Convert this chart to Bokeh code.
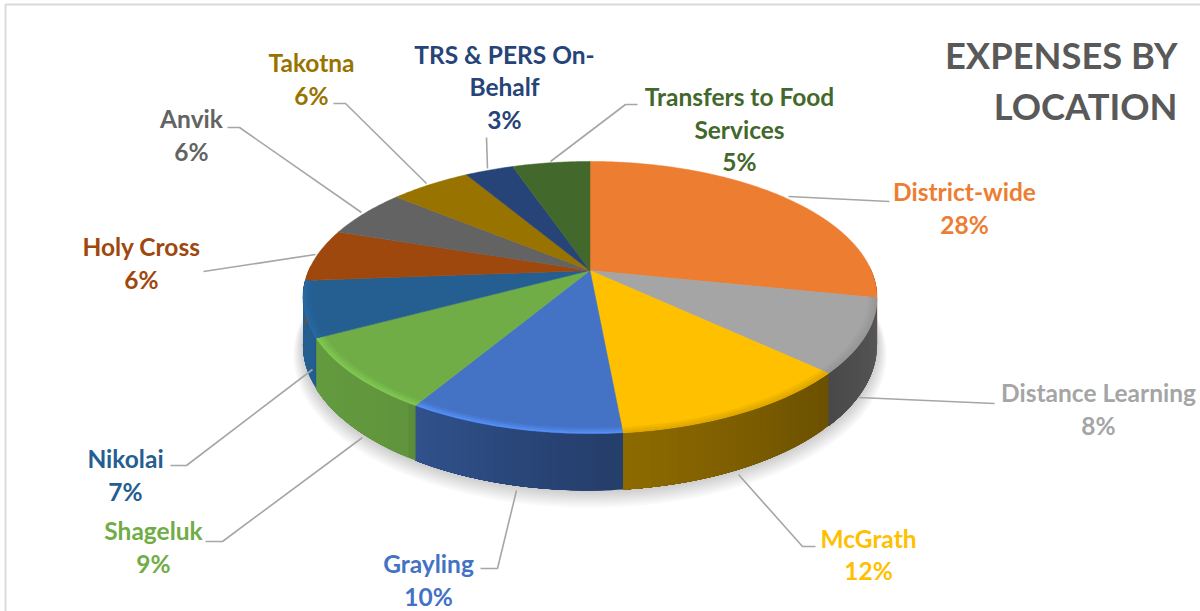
import numpy as np
from bokeh.plotting import figure
from bokeh.models import ColumnDataSource, Range1d
from bokeh.core.properties import value
from bokeh.embed import file_html
from bokeh.resources import INLINE

# ---- data ----
categories = ["District-wide", "Distance Learning", "McGrath", "Grayling", "Shageluk", "Nikolai",
              "Holy Cross", "Anvik", "Takotna", "TRS & PERS On-Behalf", "Transfers to Food Services"]
drawn_shares = [28.2, 8.7, 11.6, 10.1, 8.6, 6.6, 6.25, 5.85, 5.5, 3.3, 5.3]
percent_labels = ["28%", "8%", "12%", "10%", "9%", "7%", "6%", "6%", "6%", "3%", "5%"]

# ---- styles ----
colors = ["#ED7D31", "#A5A5A5", "#FFC000", "#4472C4", "#70AD47", "#255E91",
          "#9E480E", "#636363", "#997300", "#264478", "#43682B"]
rim_gain = [1.0, 0.92, 0.88, 1.25, 1.15, 1.1, 1, 1, 1, 1, 1]
FONT = "Lato"

# ---- label layout (pixels in the window) ----
label_lines = [["District-wide"], ["Distance Learning"], ["McGrath"], ["Grayling"], ["Shageluk"], ["Nikolai"],
               ["Holy Cross"], ["Anvik"], ["Takotna"], ["TRS & PERS On-", "Behalf"], ["Transfers to Food", "Services"]]
label_x = [964, 1098, 868, 428, 153, 125, 141, 191, 311, 504, 739]
label_y = [191, 392, 537.5, 563.3, 530, 458, 246, 118, 62, 53.5, 96]
LINE_GAP = 32.7
leaders = [
    [(788, 196), (889, 201)],
    [(858, 397), (994, 403)],
    [(738, 474), (802, 546), (815, 546)],
    [(516, 490), (497, 568), (480, 568)],
    [(362, 437), (222, 541), (205, 541)],
    [(312, 369), (186, 465), (170, 465)],
    [(315, 254), (203, 271)],
    [(361, 212), (239, 127), (227, 127)],
    [(426, 183), (345, 103), (333, 103)],
    [(487, 168), (486, 137)],
    [(550, 161), (625, 104), (637, 104)],
]

# ---- projection of the pie ----
CX, CY, RX, RY, K, DROP = 589.5, 270.0, 281.3, 130.7, 0.1987, 45.6


def project(theta_deg, r=1.0, drop=0.0):
    t = np.radians(np.asarray(theta_deg, dtype=float))
    u, v = r * np.sin(t), r * np.cos(t)
    w = 1 + K * v
    return CX + RX * u / w, CY - RY * v / w + drop / w


def scale(hex_color, f):
    rgb = [int(hex_color[i:i + 2], 16) for i in (1, 3, 5)]
    return "#%02x%02x%02x" % tuple(int(min(255, max(0, c * f))) for c in rgb)


shade_angle = [88, 132, 133, 175, 176, 211, 212, 242, 243, 272]
shade_value = [0.58, 0.45, 0.42, 0.56, 0.54, 0.72, 0.86, 0.90, 1.0, 1.0]

edges = np.concatenate([[0], np.cumsum(drawn_shares)]) / np.sum(drawn_shares) * 360

p = figure(width=1200, height=611, output_backend="svg", toolbar_location=None,
           x_range=Range1d(0, 1200), y_range=Range1d(611, 0), min_border=0,
           outline_line_color=None, background_fill_color="white", border_fill_color="white")
p.axis.visible = False
p.grid.visible = False

# frame
p.line([5, 5, 1200], [611, 4, 4], line_color="#DADADA", line_width=2)

# soft shadow under the pie
ring = np.linspace(0, 360, 241)
for i in range(8, 0, -1):
    x, y = project(ring, r=1.0 + 0.004 * i, drop=DROP + 1.0 * i)
    p.patch(x, y, fill_color="#000000", fill_alpha=0.022, line_color=None)

# side wall, painted as narrow overlapping facets (each painted over the tail of the one before)
sx, sy, sc = [], [], []
for a, b, col in zip(edges[:-1], edges[1:], colors):
    lo, hi = max(a, 88), min(b, 272)
    if hi <= lo:
        continue
    steps = max(2, int((hi - lo) / 1.5))
    grid = np.linspace(lo, hi, steps + 1)
    for t0, t1 in zip(grid[:-1], grid[1:]):
        arc = np.linspace(t0, hi, max(2, int(hi - t0) + 2))
        x0, y0 = project(arc)
        x1, y1 = project(arc[::-1], drop=DROP)
        sx.append(list(x0) + list(x1))
        sy.append(list(y0) + list(y1))
        sc.append(scale(col, np.interp((t0 + t1) / 2, shade_angle, shade_value)))
p.patches("x", "y", fill_color="c", line_color=None,
          source=ColumnDataSource(dict(x=sx, y=sy, c=sc)))

# top face
tx, ty, tc = [], [], []
for a, b, col in zip(edges[:-1], edges[1:], colors):
    grid = np.linspace(a, b, max(3, int((b - a) * 1.5)))
    x, y = project(grid)
    tx.append([CX] + list(x))
    ty.append([CY] + list(y))
    tc.append(col)
p.patches("x", "y", fill_color="c", line_color="c", line_width=0.5,
          source=ColumnDataSource(dict(x=tx, y=ty, c=tc)))

# bevel on the front edge of the top face
bx, by, bc = [], [], []
for a, b, col, gain in zip(edges[:-1], edges[1:], colors, rim_gain):
    lo, hi = max(a, 100), min(b, 272)
    if hi <= lo or gain == 1:
        continue
    grid = np.linspace(lo, hi, max(3, int(hi - lo)))
    for r0, r1, t in [(0.972, 0.982, 0.35), (0.982, 0.991, 0.7), (0.991, 1.0, 1.0)]:
        x0, y0 = project(grid, r=r0)
        x1, y1 = project(grid[::-1], r=r1)
        bx.append(list(x0) + list(x1))
        by.append(list(y0) + list(y1))
        bc.append(scale(col, 1 + (gain - 1) * t))
p.patches("x", "y", fill_color="c", line_color=None,
          source=ColumnDataSource(dict(x=bx, y=by, c=bc)))

# leader lines
p.multi_line([[q[0] for q in l] for l in leaders], [[q[1] for q in l] for l in leaders],
             line_color="#A6A6A6", line_width=1.6)

# data labels
tx_, ty_, ts_, tc_ = [], [], [], []
for lines, pct, x, y, col in zip(label_lines, percent_labels, label_x, label_y, colors):
    for i, s in enumerate(lines + [pct]):
        tx_.append(x)
        ty_.append(y + i * LINE_GAP)
        ts_.append(s)
        tc_.append(col)
p.text("x", "y", text="t", text_color="c", source=ColumnDataSource(dict(x=tx_, y=ty_, t=ts_, c=tc_)),
       text_font=value(FONT), text_font_style="bold", text_font_size="24.5px",
       text_align="center", text_baseline="middle")

# title
p.text([1177, 1177], [54, 105], text=["EXPENSES BY", "LOCATION"], text_color="#595959",
       text_font=value(FONT), text_font_style="bold", text_font_size="36.3px",
       text_align="right", text_baseline="middle")

open("out.html", "w").write(file_html(p, INLINE))
